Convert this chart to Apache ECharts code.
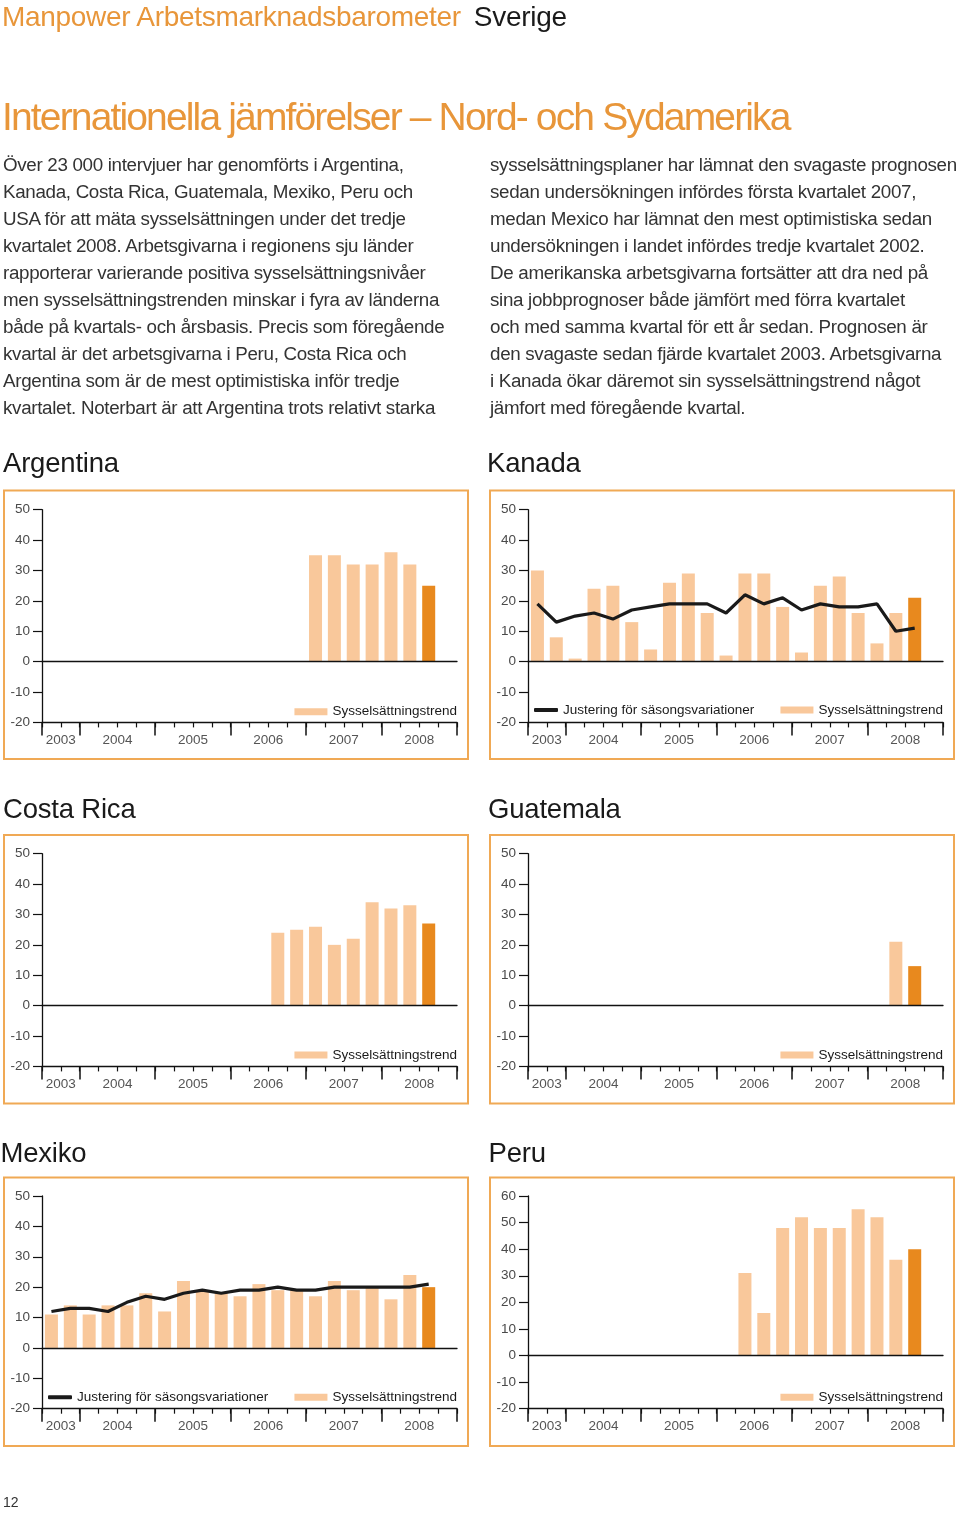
<!DOCTYPE html>
<html><head><meta charset="utf-8">
<script src="https://cdn.jsdelivr.net/npm/echarts@6/dist/echarts.min.js"></script>
<style>
body{margin:0;background:#fff;}
#page{position:relative;width:960px;height:1517px;overflow:hidden;font-family:'Liberation Sans',Arial,Helvetica,sans-serif;}
#chart{position:absolute;left:0;top:0;width:960px;height:1517px;}
.t{position:absolute;white-space:nowrap;}
.p{font-size:18.8px;line-height:27px;color:#333;letter-spacing:-0.32px;}
.h{font-size:27.5px;line-height:32px;color:#1a1a1a;letter-spacing:-0.2px;}
</style></head><body>
<div id="page">
<div id="chart"></div>
<div class="t" style="left:2px;top:1px;font-size:28px;line-height:32px;color:#e8963a;letter-spacing:-0.3px">Manpower Arbetsmarknadsbarometer<span style="color:#1a1a1a;margin-left:13px">Sverige</span></div>
<div class="t" style="left:2px;top:94.5px;font-size:39px;line-height:44px;color:#e8963a;letter-spacing:-1.85px">Internationella jämförelser – Nord- och Sydamerika</div>
<div class="t p" style="left:3px;top:151px">Över 23 000 intervjuer har genomförts i Argentina,<br>Kanada, Costa Rica, Guatemala, Mexiko, Peru och<br>USA för att mäta sysselsättningen under det tredje<br>kvartalet 2008. Arbetsgivarna i regionens sju länder<br>rapporterar varierande positiva sysselsättningsnivåer<br>men sysselsättningstrenden minskar i fyra av länderna<br>både på kvartals- och årsbasis. Precis som föregående<br>kvartal är det arbetsgivarna i Peru, Costa Rica och<br>Argentina som är de mest optimistiska inför tredje<br>kvartalet. Noterbart är att Argentina trots relativt starka</div>
<div class="t p" style="left:490px;top:151px">sysselsättningsplaner har lämnat den svagaste prognosen<br>sedan undersökningen infördes första kvartalet 2007,<br>medan Mexico har lämnat den mest optimistiska sedan<br>undersökningen i landet infördes tredje kvartalet 2002.<br>De amerikanska arbetsgivarna fortsätter att dra ned på<br>sina jobbprognoser både jämfört med förra kvartalet<br>och med samma kvartal för ett år sedan. Prognosen är<br>den svagaste sedan fjärde kvartalet 2003. Arbetsgivarna<br>i Kanada ökar däremot sin sysselsättningstrend något<br>jämfort med föregående kvartal.</div>
<div class="t h" style="left:3px;top:447px">Argentina</div>
<div class="t h" style="left:487px;top:447px">Kanada</div>
<div class="t h" style="left:3px;top:793px">Costa Rica</div>
<div class="t h" style="left:488px;top:793px">Guatemala</div>
<div class="t h" style="left:0.5px;top:1136.5px">Mexiko</div>
<div class="t h" style="left:488.5px;top:1136.5px">Peru</div>
<div class="t" style="left:3px;top:1493px;font-size:14px;line-height:18px;color:#333">12</div>
</div>
<script>
// ---------- data ----------
const quarters = ['2003Q3','2003Q4',
  '2004Q1','2004Q2','2004Q3','2004Q4',
  '2005Q1','2005Q2','2005Q3','2005Q4',
  '2006Q1','2006Q2','2006Q3','2006Q4',
  '2007Q1','2007Q2','2007Q3','2007Q4',
  '2008Q1','2008Q2','2008Q3','2008Q4'];
const yearLabels = ['2003','2004','2005','2006','2007','2008'];
const currentQuarter = '2008Q3';
const trendName = 'Sysselsättningstrend';
const adjName = 'Justering för säsongsvariationer';

const argentinaTrend = [null,null,null,null,null,null,null,null,null,null,null,null,null,null,35,35,32,32,36,32,25,null];
const kanadaTrend    = [30,8,1,24,25,13,4,26,29,16,2,29,29,18,3,25,28,16,6,16,21,null];
const kanadaAdj      = [19,13,15,16,14,17,18,19,19,19,16,22,19,21,17,19,18,18,19,10,11,null];
const costaRicaTrend = [null,null,null,null,null,null,null,null,null,null,null,null,24,25,26,20,22,34,32,33,27,null];
const guatemalaTrend = [null,null,null,null,null,null,null,null,null,null,null,null,null,null,null,null,null,null,null,21,13,null];
const mexikoTrend    = [11,14,11,14,14,18,12,22,19,18,17,21,19,19,17,22,19,20,16,24,20,null];
const mexikoAdj      = [12,13,13,12,15,17,16,18,19,18,19,19,20,19,19,20,20,20,20,20,21,null];
const peruTrend      = [null,null,null,null,null,null,null,null,null,null,null,31,16,48,52,48,48,55,52,36,40,null];

const yMinAll = -20;
const yMaxStd = 50;
const yMaxPeru = 60;
const yStep = 10;

// ---------- layout ----------
const FONT = "'Liberation Sans', Arial, Helvetica, sans-serif";
const LIGHT = '#f9c89b', DARK = '#e8891e', BORDER = '#f0a955', INK = '#111';
const colX = [{box:4, grid:42}, {box:490, grid:528}];
const rowY = [{box:490.5, grid:509.7}, {box:835, grid:853.7}, {box:1177.5, grid:1196}];
const BOXW = 464, BOXH = 268.5, GRIDW = 415, GRIDH = 212.7;

const panels = [
  {trend: argentinaTrend, adj: null, yMax: yMaxStd, col:0, row:0, legendY:712.7},
  {trend: kanadaTrend, adj: kanadaAdj, yMax: yMaxStd, col:1, row:0, legendY:711, lineLegendLeft:534},
  {trend: costaRicaTrend, adj: null, yMax: yMaxStd, col:0, row:1, legendY:1056},
  {trend: guatemalaTrend, adj: null, yMax: yMaxStd, col:1, row:1, legendY:1056},
  {trend: mexikoTrend, adj: mexikoAdj, yMax: yMaxStd, col:0, row:2, legendY:1398.3, lineLegendLeft:48},
  {trend: peruTrend, adj: null, yMax: yMaxPeru, col:1, row:2, legendY:1398.3}
];

// year boundaries / label positions derived from the quarter categories
const yearBounds = [0];
quarters.forEach((q,i)=>{ if(i>0 && q.endsWith('Q1')) yearBounds.push(i); });
yearBounds.push(quarters.length);
const yearMids = yearBounds.slice(0,-1).map((b,i)=>(b+yearBounds[i+1])/2);
const quarterBounds = quarters.map((q,i)=>i).concat([quarters.length]);
const curIdx = quarters.indexOf(currentQuarter);

const grids=[], xAxes=[], yAxes=[], series=[], legends=[], graphics=[];
panels.forEach((p,g)=>{
  const gl = colX[p.col].grid, gt = rowY[p.row].grid;
  grids.push({left:gl, top:gt, width:GRIDW, height:GRIDH, containLabel:false});
  graphics.push({type:'rect', silent:true, shape:{x:colX[p.col].box, y:rowY[p.row].box, width:BOXW, height:BOXH},
    style:{fill:'none', stroke:BORDER, lineWidth:2}});
  // category axis for the data (its line is the zero line)
  xAxes.push({type:'category', gridIndex:g, data:quarters, boundaryGap:true,
    axisLine:{show:true, onZero:true, lineStyle:{color:INK, width:1.3}},
    axisTick:{show:false}, axisLabel:{show:false}, splitLine:{show:false}, z:5});
  // quarter ticks + bottom line
  xAxes.push({type:'value', gridIndex:g, min:0, max:quarters.length, position:'bottom',
    axisLine:{show:true, onZero:false, lineStyle:{color:INK, width:1.3}},
    axisTick:{show:true, customValues:quarterBounds, length:5, lineStyle:{color:INK, width:1.2}},
    axisLabel:{show:false}, splitLine:{show:false}});
  // year ticks + labels
  xAxes.push({type:'value', gridIndex:g, min:0, max:quarters.length, position:'bottom',
    axisLine:{show:false, onZero:false},
    axisTick:{show:true, customValues:yearBounds, length:13, lineStyle:{color:INK, width:1.5}},
    axisLabel:{show:true, customValues:yearMids, margin:11, color:'#555', fontSize:13.5, fontFamily:FONT,
      formatter:(v)=>yearLabels[yearMids.indexOf(Number(v))] || ''},
    splitLine:{show:false}});
  yAxes.push({type:'value', gridIndex:g, min:yMinAll, max:p.yMax, interval:yStep,
    axisLine:{show:true, onZero:false, lineStyle:{color:INK, width:1.3}},
    axisTick:{show:true, inside:false, length:9, lineStyle:{color:INK, width:1.2}},
    axisLabel:{margin:12, color:'#4a4a4a', fontSize:13.5, fontFamily:FONT},
    splitLine:{show:false}});
  series.push({type:'bar', name:trendName, xAxisIndex:3*g, yAxisIndex:g, barWidth:13,
    itemStyle:{color:LIGHT}, z:2, animation:false,
    data:p.trend.map((v,i)=> (i===curIdx && v!=null) ? {value:v, itemStyle:{color:DARK}} : v)});
  if(p.adj){
    series.push({type:'line', name:adjName, xAxisIndex:3*g, yAxisIndex:g, data:p.adj,
      symbol:'none', lineStyle:{color:'#1a1a1a', width:3.2}, itemStyle:{color:'#1a1a1a'}, z:6, animation:false});
    legends.push({data:[{name:adjName, icon:'roundRect'}], left:p.lineLegendLeft, top:p.legendY-8, padding:0,
      itemWidth:24, itemHeight:4, selectedMode:false,
      textStyle:{fontSize:13.5, color:'#1a1a1a', fontFamily:FONT}});
  }
  legends.push({data:[{name:trendName, icon:'rect'}], right:960-(gl+GRIDW), top:p.legendY-8, padding:0,
    itemWidth:33, itemHeight:7, selectedMode:false,
    textStyle:{fontSize:13.5, color:'#1a1a1a', fontFamily:FONT}});
});

const chart = echarts.init(document.getElementById('chart'), null, {width:960, height:1517});
chart.setOption({
  animation:false,
  backgroundColor:'transparent',
  textStyle:{fontFamily:FONT},
  grid:grids, xAxis:xAxes, yAxis:yAxes, series:series, legend:legends,
  graphic:graphics
});
</script>
</body></html>
